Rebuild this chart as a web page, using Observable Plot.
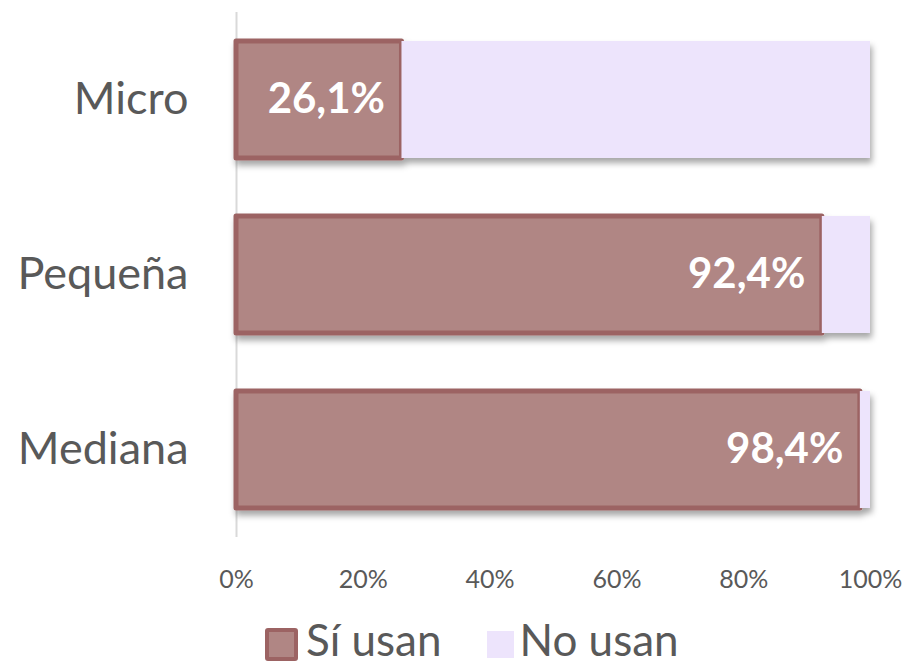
<!DOCTYPE html>
<html>
<head>
<meta charset="utf-8">
<script src="https://cdn.jsdelivr.net/npm/d3@7"></script>
<script src="https://cdn.jsdelivr.net/npm/@observablehq/plot@0.6"></script>
<style>
  html, body { margin: 0; padding: 0; background: #ffffff; }
  #chart { width: 910px; height: 667px; position: relative; overflow: hidden; font-family: Lato, "Open Sans", sans-serif; }
  #legend { position: absolute; left: 265px; top: 619px; height: 40px; display: flex; align-items: flex-start; color: #595959; font-size: 44px; line-height: 40px; white-space: nowrap; }
  .sw1 { width: 25px; height: 25px; background: #B08684; border: 4px solid #9C6363; border-radius: 3px; margin-top: 9px; margin-right: 8px; }
  .sw2 { width: 27px; height: 27px; background: #EDE4FC; margin-top: 12px; margin-left: 45px; margin-right: 6px; }
</style>
</head>
<body>
<div id="chart"></div>
<script>
const categories = ["Micro", "Pequeña", "Mediana"];
const siUsan = [26.1, 92.4, 98.4];
const noUsan = [73.9, 7.6, 1.6];
const seriesNames = ["Sí usan", "No usan"];
const xTicks = [0, 20, 40, 60, 80, 100];
const siLabels = ["26,1%", "92,4%", "98,4%"];

const rows = [];
categories.forEach((c, i) => {
  rows.push({cat: c, serie: seriesNames[0], value: siUsan[i], label: siLabels[i], order: 0});
  rows.push({cat: c, serie: seriesNames[1], value: noUsan[i], label: "", order: 1});
});
const siRows = rows.filter(d => d.serie === seriesNames[0]);

const plot = Plot.plot({
  width: 910,
  height: 612,
  marginLeft: 236,
  marginRight: 40,
  marginTop: 12,
  marginBottom: 75,
  style: {fontFamily: "Lato, 'Open Sans', sans-serif", color: "#595959", background: "transparent"},
  x: {domain: [0, 100], ticks: xTicks, tickFormat: d => d + "%", tickSize: 0, tickPadding: 33, label: null},
  y: {domain: categories, paddingInner: 0.33, paddingOuter: 0.165, tickSize: 0, tickPadding: 48, label: null},
  color: {domain: seriesNames, range: ["#B08684", "#EDE4FC"]},
  marks: [
    Plot.ruleX([0], {stroke: "#D9D9D9", strokeWidth: 2}),
    Plot.barX(rows, Plot.stackX({x: "value", y: "cat", fill: "serie", order: "order",
      stroke: d => d.order === 0 ? "#9C6363" : "none", strokeWidth: 5, strokeLinejoin: "round"})),
    Plot.text(siRows, {x: "value", y: "cat", text: "label", textAnchor: "end", dx: -17,
      fill: "white", fontWeight: "bold", fontSize: 42})
  ]
});

const svg = d3.select(plot);
svg.insert("defs", ":first-child").html(
  '<filter id="sh" x="-5%" y="-10%" width="115%" height="130%"><feDropShadow dx="2" dy="5" stdDeviation="3" flood-color="#000" flood-opacity="0.35"/></filter>');
svg.selectAll('g[aria-label="bar"]').attr("filter", "url(#sh)");
svg.selectAll('g[aria-label^="y-axis tick label"]').style("font-size", "45px").attr("fill", "#595959");
svg.selectAll('g[aria-label^="x-axis tick label"]').style("font-size", "25px").attr("fill", "#595959");

const chart = document.getElementById("chart");
chart.appendChild(plot);

const legend = document.createElement("div");
legend.id = "legend";
legend.innerHTML = '<span class="sw1"></span><span>' + seriesNames[0] + '</span><span class="sw2"></span><span>' + seriesNames[1] + '</span>';
chart.appendChild(legend);
</script>
</body>
</html>
